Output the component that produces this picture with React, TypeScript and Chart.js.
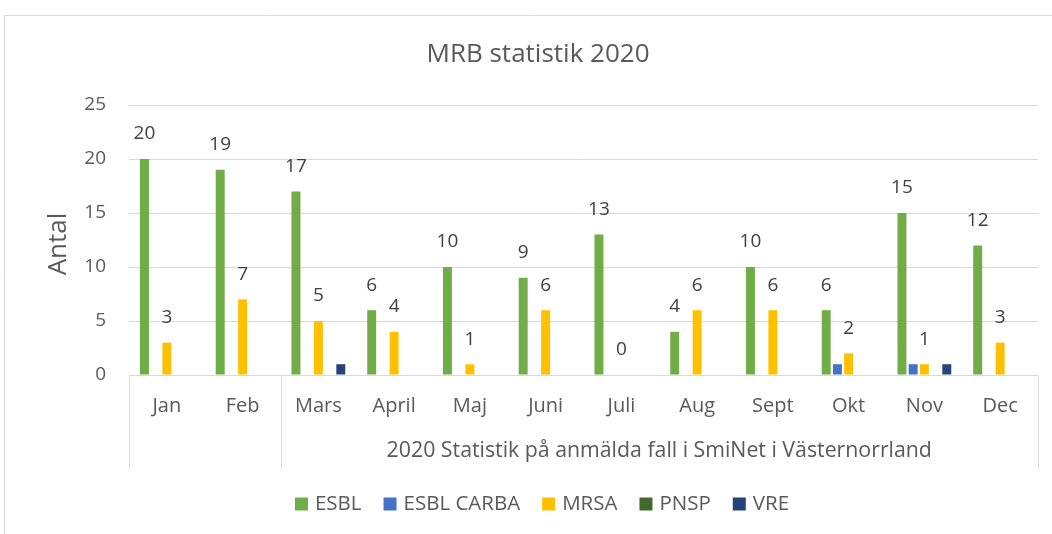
import React, { useEffect, useRef } from "react";
import { Chart, registerables } from "chart.js";

Chart.register(...registerables);

const chartTitle = "MRB statistik 2020";
const yAxisTitle = "Antal";
const months = ["Jan", "Feb", "Mars", "April", "Maj", "Juni", "Juli", "Aug", "Sept", "Okt", "Nov", "Dec"];
const esbl = [20, 19, 17, 6, 10, 9, 13, 4, 10, 6, 15, 12];
const esblCarba = [0, 0, 0, 0, 0, 0, 0, 0, 0, 1, 1, 0];
const mrsa = [3, 7, 5, 4, 1, 6, 0, 6, 6, 2, 1, 3];
const pnsp = [0, 0, 0, 0, 0, 0, 0, 0, 0, 0, 0, 0];
const vre = [0, 0, 1, 0, 0, 0, 0, 0, 0, 0, 1, 0];
const seriesNames = ["ESBL", "ESBL CARBA", "MRSA", "PNSP", "VRE"];
const seriesColors = ["#70AD47", "#4472C4", "#FFC000", "#43682B", "#264478"];
const labeledSeries = [0, 2];
const groupLabels = ["", "2020 Statistik på anmälda fall i SmiNet i Västernorrland"];
const groupStarts = [0, 2];
const groupEnds = [1, 11];
const yMax = 25;
const yStep = 5;

const FONT = "'Open Sans'";
const TEXT = "#595959";
const LABEL = "#404040";
const LINE = "#D9D9D9";

const overlay = {
  id: "overlay",
  afterDraw(chart: any) {
    const ctx = chart.ctx;
    const area = chart.chartArea;
    const x = chart.scales.x;
    ctx.save();
    // outer chart border
    ctx.strokeStyle = LINE;
    ctx.lineWidth = 1;
    ctx.beginPath();
    ctx.moveTo(4.5, chart.height);
    ctx.lineTo(4.5, 15.5);
    ctx.lineTo(chart.width, 15.5);
    ctx.stroke();

    // title
    ctx.fillStyle = TEXT;
    ctx.textAlign = "center";
    ctx.textBaseline = "middle";
    ctx.font = `26px ${FONT}`;
    ctx.fillText(chartTitle, 538, 55);

    // y axis title
    ctx.save();
    ctx.translate(59, 244);
    ctx.rotate(-Math.PI / 2);
    ctx.font = `26px ${FONT}`;
    ctx.fillText(yAxisTitle, 0, 0);
    ctx.restore();

    // category axis line and group separators
    const catW = (area.right - area.left) / months.length;
    const bottom = Math.round(area.bottom) + 0.5;
    ctx.strokeStyle = LINE;
    ctx.beginPath();
    ctx.moveTo(area.left, bottom);
    ctx.lineTo(area.right, bottom);
    const seps: number[] = [];
    groupStarts.forEach((s) => seps.push(x.getPixelForValue(s) - catW / 2));
    seps.push(x.getPixelForValue(groupEnds[groupEnds.length - 1]) + catW / 2);
    seps.forEach((sx) => {
      const px = Math.round(sx) + 0.5;
      ctx.moveTo(px, bottom);
      ctx.lineTo(px, bottom + 93);
    });
    ctx.stroke();

    // month labels
    ctx.fillStyle = TEXT;
    ctx.font = `20px ${FONT}`;
    months.forEach((m, i) => {
      ctx.fillText(m, x.getPixelForValue(i), area.bottom + 31);
    });
    // group labels
    ctx.font = `21.3px ${FONT}`;
    groupLabels.forEach((g, gi) => {
      if (!g) return;
      const x0 = x.getPixelForValue(groupStarts[gi]) - catW / 2;
      const x1 = x.getPixelForValue(groupEnds[gi]) + catW / 2;
      ctx.fillText(g, (x0 + x1) / 2, area.bottom + 76);
    });

    // data labels
    ctx.fillStyle = LABEL;
    ctx.font = `19px ${FONT}`;
    labeledSeries.forEach((di) => {
      const meta = chart.getDatasetMeta(di);
      const data = chart.data.datasets[di].data;
      meta.data.forEach((bar: any, i: number) => {
        ctx.fillText(String(data[i]), bar.x, bar.y - 25);
      });
    });

    // legend
    ctx.font = `20.5px ${FONT}`;
    ctx.textAlign = "left";
    const sw = 13;
    const gapIn = 7;
    const gapOut = 22;
    const widths = seriesNames.map((n) => ctx.measureText(n).width);
    const total = widths.reduce((a, w) => a + sw + gapIn + w, 0) + gapOut * (seriesNames.length - 1);
    let lx = 542 - total / 2;
    const ly = 504;
    seriesNames.forEach((n, i) => {
      ctx.fillStyle = seriesColors[i];
      ctx.fillRect(lx, ly - sw / 2, sw, sw);
      ctx.fillStyle = TEXT;
      ctx.fillText(n, lx + sw + gapIn, ly);
      lx += sw + gapIn + widths[i] + gapOut;
    });
    ctx.restore();
  },
};

export default function App() {
  const ref = useRef<HTMLCanvasElement | null>(null);
  useEffect(() => {
    if (!ref.current) return;
    const series = [esbl, esblCarba, mrsa, pnsp, vre];
    const chart = new Chart(ref.current, {
      type: "bar",
      data: {
        labels: months,
        datasets: series.map((d, i) => ({
          label: seriesNames[i],
          data: d,
          backgroundColor: seriesColors[i],
          borderWidth: 0,
          categoryPercentage: 0.74,
          barPercentage: 0.8,
        })),
      },
      options: {
        responsive: false,
        animation: false,
        devicePixelRatio: 1,
        layout: { padding: { left: 0, right: 14, top: 105, bottom: 159 } },
        plugins: {
          legend: { display: false },
          title: { display: false },
          tooltip: { enabled: false },
        },
        scales: {
          x: { display: false },
          y: {
            min: 0,
            max: yMax,
            afterFit: (s: any) => {
              s.width = 129;
            },
            ticks: {
              stepSize: yStep,
              padding: 23,
              color: TEXT,
              font: { family: "Open Sans", size: 19 },
            },
            grid: { color: LINE, drawTicks: false },
            border: { display: false },
          },
        },
      },
      plugins: [overlay],
    });
    return () => chart.destroy();
  }, []);
  return (
    <div style={{ position: "fixed", left: 0, top: 0, width: 1052, height: 534, background: "#fff" }}>
      <canvas ref={ref} width={1052} height={534} />
    </div>
  );
}
